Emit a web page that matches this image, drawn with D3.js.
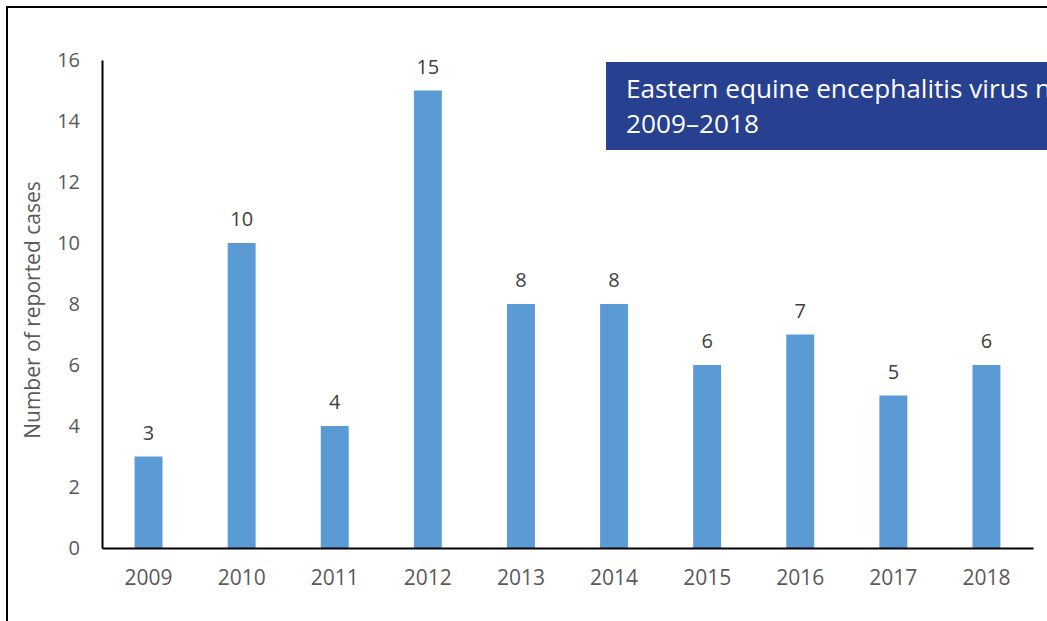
<!DOCTYPE html>
<html><head><meta charset="utf-8">
<script src="https://cdn.jsdelivr.net/npm/d3@7"></script>
<style>html,body{margin:0;padding:0;background:#fff;overflow:hidden}svg{display:block}</style>
</head><body>
<svg id="c" width="1047" height="621"></svg>
<script>
const years = ["2009","2010","2011","2012","2013","2014","2015","2016","2017","2018"];
const cases = [3,10,4,15,8,8,6,7,5,6];
const yTicks = [0,2,4,6,8,10,12,14,16];
const titleLines = ["Eastern equine encephalitis virus neuroinvasive disease cases,", "2009–2018"];
const yTitle = "Number of reported cases";

const svg = d3.select("#c");
const font = "'Open Sans', 'Noto Sans', sans-serif";

// frame
svg.append("path").attr("d","M7,621 V7 H1047").attr("fill","none").attr("stroke","#000").attr("stroke-width",2);

const x = d3.scaleBand().domain(years).range([102,1033]).paddingInner(0.7).paddingOuter(0.35);
const y = d3.scaleLinear().domain([0,16]).range([548,60]);

// bars
svg.append("g").selectAll("rect").data(cases).join("rect")
  .attr("x",(d,i)=>x(years[i])).attr("width",x.bandwidth())
  .attr("y",d=>y(d)).attr("height",d=>y(0)-y(d)).attr("fill","#5b9bd5");

// value labels
svg.append("g").selectAll("text").data(cases).join("text")
  .attr("x",(d,i)=>x(years[i])+x.bandwidth()/2).attr("y",d=>y(d)-17)
  .attr("text-anchor","middle").attr("font-family",font).attr("font-size",20).attr("fill","#404040")
  .text(d=>d);

// y axis
const ya = svg.append("g").attr("transform","translate(102,0)")
  .call(d3.axisLeft(y).tickValues(yTicks).tickSize(0).tickPadding(22));
ya.select(".domain").attr("stroke","#000").attr("stroke-width",2);
ya.selectAll("text").attr("font-family",font).attr("font-size",20).attr("fill","#595959");

// x axis
const xa = svg.append("g").attr("transform","translate(0,548)")
  .call(d3.axisBottom(x).tickSize(0).tickPadding(22).tickSizeOuter(0));
xa.select(".domain").attr("stroke","#000").attr("stroke-width",2);
xa.selectAll("text").attr("font-family",font).attr("font-size",21).attr("fill","#595959");

// y title
svg.append("text").attr("transform","translate(40,310) rotate(-90)")
  .attr("text-anchor","middle").attr("font-family",font).attr("font-size",21).attr("fill","#595959")
  .text(yTitle);

// title box
svg.append("rect").attr("x",606).attr("y",62).attr("width",441).attr("height",88).attr("fill","#27408f");
const t = svg.append("text").attr("font-family",font).attr("font-size",26.2).attr("fill","#fff");
titleLines.forEach((s,i)=>t.append("tspan").attr("x",626).attr("y",98+i*35).text(s));
</script>
</body></html>
